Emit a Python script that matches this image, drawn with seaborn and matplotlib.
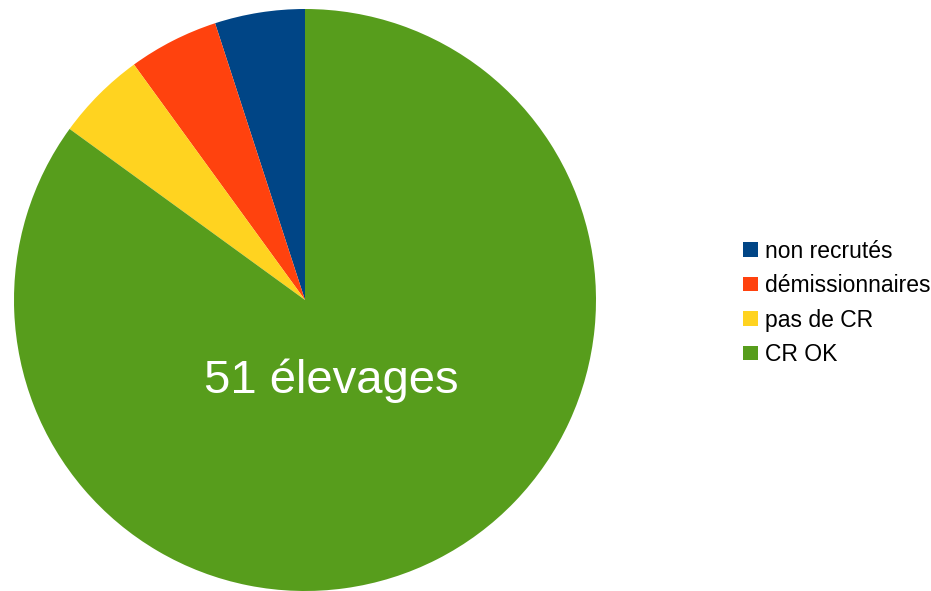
import matplotlib
matplotlib.use("Agg")
import matplotlib.pyplot as plt
import seaborn as sns

# slice data (each small slice ~18 deg => 3 of 60)
categories = ["non recrutés", "démissionnaires", "pas de CR", "CR OK"]
counts = [3, 3, 3, 51]
colors = ["#004586", "#ff420e", "#ffd320", "#579d1c"]
center_label = "51 élevages"

sns.set_theme(style="white")
plt.rcParams["font.family"] = ["Liberation Sans", "DejaVu Sans"]
plt.rcParams["text.color"] = "black"

fig = plt.figure(figsize=(9.31, 5.91), dpi=100)
ax = fig.add_axes([14 / 931, 0 / 591, 582 / 931, 582 / 591])

wedges, _ = ax.pie(counts, colors=sns.color_palette(colors), startangle=90,
                   counterclock=True, radius=1.0,
                   wedgeprops=dict(linewidth=0))
ax.set_xlim(-1, 1)
ax.set_ylim(-1, 1)
ax.set_aspect("equal")
ax.axis("off")

ax.text(0.091, -0.32, center_label, color="white", fontsize=34,
        ha="center", va="baseline")

leg = fig.legend(wedges, categories, loc="center left",
                 bbox_to_anchor=(743 / 931, 1 - 303 / 591),
                 frameon=False, fontsize=16.5, handlelength=0.65,
                 handleheight=0.6, handletextpad=0.3, labelspacing=0.5,
                 borderpad=0, borderaxespad=0, labelcolor="black")

fig.savefig("out.png", dpi=100)
